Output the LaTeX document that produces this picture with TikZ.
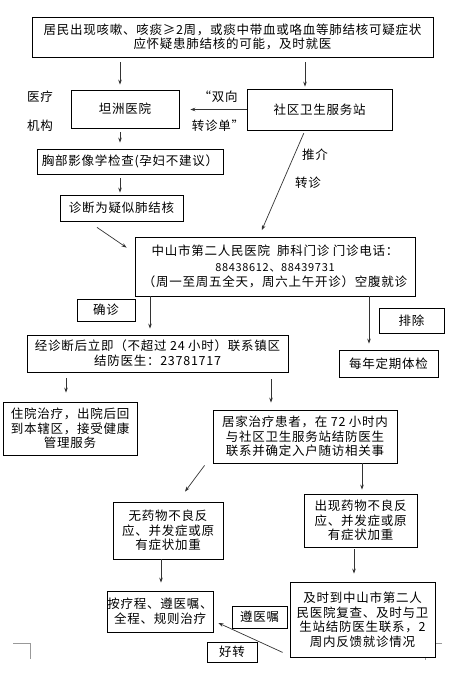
\documentclass[tikz,border=0pt]{standalone}
\usepackage{fontspec}
\setmainfont[LetterSpace=6]{Noto Sans CJK SC}
\usetikzlibrary{arrows.meta}
\tikzset{
  box/.style={draw=black, line width=0.8pt, fill=white, inner sep=0pt, align=center, font=\fontsize{12.5pt}{15pt}\selectfont},
  lbl/.style={inner sep=0pt, font=\fontsize{12.5pt}{15pt}\selectfont},
  arr/.style={draw=black!80, line width=0.7pt, -{Stealth[length=5pt,width=3.6pt]}},
  cornermark/.style={draw=black!40, line width=0.8pt}
}
\begin{document}
\begin{tikzpicture}[x=1pt,y=-1pt]
\useasboundingbox (0,0) rectangle (457,679);
% page corner marks
\draw[cornermark] (13,643) -- (30,643) -- (30,659);
\draw[cornermark] (442,643) -- (425,643) -- (425,660);
% boxes
\node[box, minimum width=401pt, minimum height=40pt, font=\fontsize{12.5pt}{14pt}\selectfont] (top) at (232.5,37) {居民出现咳嗽、咳痰≥2周，或痰中带血或咯血等肺结核可疑症状\\应怀疑患肺结核的可能，及时就医};
\node[box, minimum width=108pt, minimum height=38pt] (tz) at (125,109) {坦洲医院};
\node[box, minimum width=145pt, minimum height=41pt] (sq) at (319.5,109.5) {社区卫生服务站};
\node[box, minimum width=186pt, minimum height=25pt] (xb) at (130,161.5) {胸部影像学检查(孕妇不建议）};
\node[box, minimum width=123pt, minimum height=26pt] (zd) at (121.5,208) {诊断为疑似肺结核};
\node[box, minimum width=280pt, minimum height=59pt, font=\fontsize{12.5pt}{15.5pt}\selectfont] (zs) at (275,266.5) {中山市第二人民医院\ \ 肺科门诊\ 门诊电话：\\{\fontsize{11pt}{15.5pt}\selectfont 88438612、88439731}\\（周一至周五全天，周六上午开诊）空腹就诊};
\node[box, minimum width=58pt, minimum height=22pt] (qz) at (106,310) {确诊};
\node[box, minimum width=261pt, minimum height=37pt] (jz) at (157.5,353.5) {经诊断后立即（不超过 24 小时）联系镇区\\结防医生：23781717};
\node[box, minimum width=65pt, minimum height=25pt] (pc) at (411.5,320.5) {排除};
\node[box, minimum width=99pt, minimum height=27pt] (mn) at (388.5,363.5) {每年定期体检};
\node[box, minimum width=134pt, minimum height=53pt, font=\fontsize{12.5pt}{14.5pt}\selectfont] (zy) at (70,428.5) {住院治疗，出院后回\\到本辖区，接受健康\\管理服务};
\node[box, minimum width=184pt, minimum height=53pt, font=\fontsize{12.5pt}{14.5pt}\selectfont] (jj) at (305,436.5) {居家治疗患者，在 72 小时内\\与社区卫生服务站结防医生\\联系并确定入户随访相关事};
\node[box, minimum width=110pt, minimum height=57pt, font=\fontsize{12.5pt}{14.5pt}\selectfont] (wy) at (168,530.5) {无药物不良反\\应、并发症或原\\有症状加重};
\node[box, minimum width=113pt, minimum height=53pt, font=\fontsize{12.5pt}{14.5pt}\selectfont] (cx) at (360.5,520.5) {出现药物不良反\\应、并发症或原\\有症状加重};
\node[box, minimum width=106pt, minimum height=41pt] (al) at (160,611.5) {按疗程、遵医嘱、\\全程、规则治疗};
\node[box, minimum width=145pt, minimum height=75pt, font=\fontsize{12.5pt}{14.5pt}\selectfont] (js) at (362.5,619.5) {及时到中山市第二人\\民医院复查、及时与卫\\生站结防医生联系，2\\周内反馈就诊情况};
\node[box, minimum width=55pt, minimum height=22pt] (zyz) at (259.5,617) {遵医嘱};
\node[box, minimum width=50pt, minimum height=20pt] (hz) at (232,652) {好转};
% plain labels
\node[lbl] (yl) at (40,97) {医疗};
\node[lbl] (jg) at (40,126) {机构};
\node[lbl] (sx) at (218,97) {“双向};
\node[lbl] (zzd) at (218,126) {转诊单”};
\node[lbl] (tj) at (315,155) {推介};
\node[lbl] (zz) at (308,183) {转诊};
% connectors
\draw[arr, shorten <=5pt, shorten >=5pt] ([xshift=-5pt]tz.north |- top.south) -- ([xshift=-5pt]tz.north);
\draw[arr, shorten <=5pt, shorten >=2pt] ([xshift=-14.5pt]sq.north |- top.south) -- ([xshift=-14.5pt]sq.north);
\draw[arr, shorten >=11pt] (sq.west) -- (tz.east |- sq.west);
\draw[arr, shorten <=4pt, shorten >=6pt] ([xshift=-5pt]tz.south) -- ([xshift=-5pt]tz.south |- xb.north);
\draw[arr, shorten <=4pt, shorten >=2pt] ([xshift=-10pt]xb.south) -- ([xshift=-10pt]xb.south |- zd.north);
\draw[arr, shorten <=3pt, shorten >=7pt] ([xshift=-14.5pt]sq.south) -- ([xshift=-16pt]zs.north);
\draw[arr] ([xshift=-24.5pt,yshift=-6pt]zd.south) -- ([xshift=-8pt,yshift=-11pt]zs.north west);
\draw[arr, shorten >=6pt] ([xshift=-125pt]zs.south) -- ([xshift=-7.5pt]jz.north);
\draw[arr, shorten >=6pt] ([xshift=94pt]zs.south) -- ([xshift=-19.5pt]mn.north);
\draw[arr, shorten <=6pt, shorten >=9pt] ([xshift=-91.5pt]jz.south) -- ([xshift=-4pt]zy.north);
\draw[arr, shorten <=7pt, shorten >=7pt] ([xshift=113.5pt]jz.south) -- ([xshift=-34pt]jj.north);
\draw[arr] ([xshift=-8pt,yshift=-2pt]jj.south west) -- ([xshift=17pt,yshift=10pt]wy.north);
\draw[arr, shorten >=4pt] ([xshift=57pt]jj.south) -- ([xshift=1.5pt]cx.north);
\draw[arr, shorten >=8pt] ([xshift=-7pt]wy.south) -- ([xshift=1pt]al.north);
\draw[arr, shorten <=2pt, shorten >=8pt] ([xshift=-6.5pt]cx.south) -- ([xshift=-8.5pt]js.north);
\draw[arr] ([xshift=-7pt,yshift=5pt]js.south west) -- ([xshift=5pt,yshift=-11.5pt]al.east);
\end{tikzpicture}
\end{document}
